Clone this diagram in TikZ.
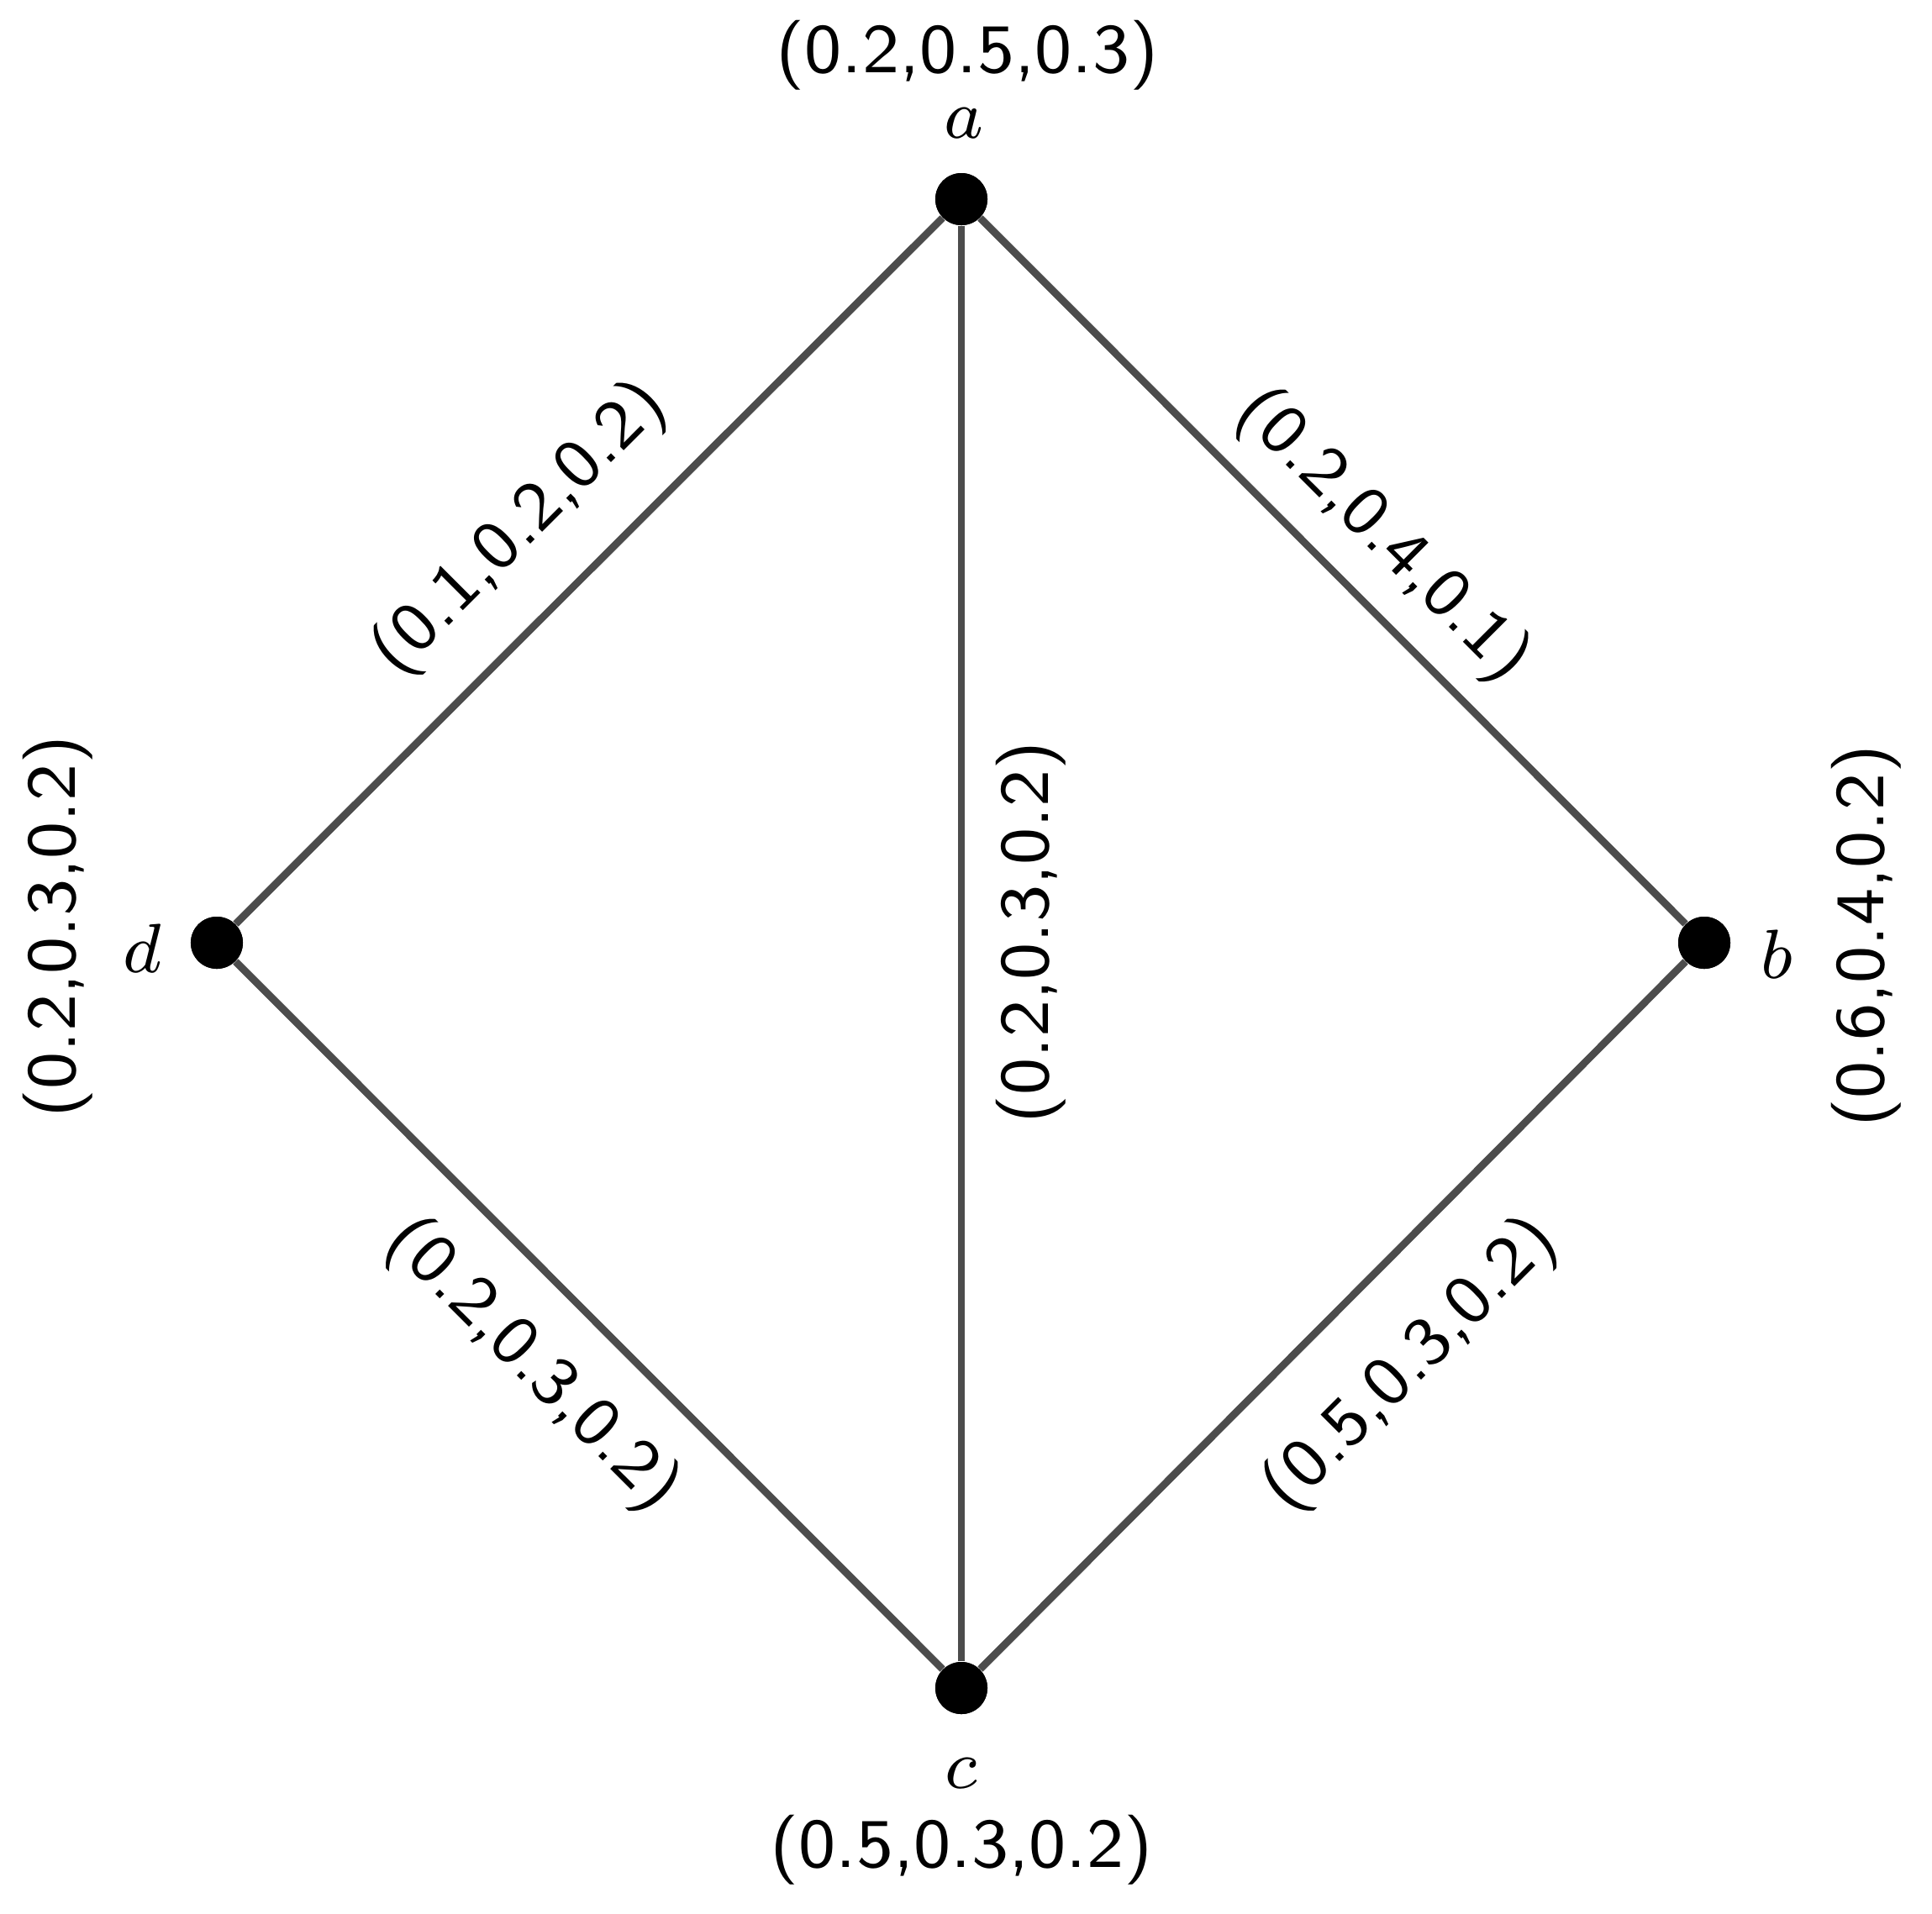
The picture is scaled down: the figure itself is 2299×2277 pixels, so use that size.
\documentclass[tikz,border=0pt]{standalone}
\begin{document}
\begin{tikzpicture}[x=0.01cm,y=-0.01cm,
  vert/.style={circle,fill=black,inner sep=0pt,minimum size=0.62cm},
  edge/.style={draw=black!70,line width=2.5pt},
  lbl/.style={font=\fontsize{8}{10}\sffamily,inner sep=0pt,scale=2.95},
  vname/.style={font=\fontsize{8}{10}\selectfont,inner sep=0pt,scale=2.95}]
\path[use as bounding box] (0,0) rectangle (2299,2277);
\node[vert] (a) at (1144,237) {};
\node[vert] (b) at (2028,1122) {};
\node[vert] (c) at (1144,2009) {};
\node[vert] (d) at (258,1122) {};
\draw[edge] (a) -- (d);
\draw[edge] (a) -- (b);
\draw[edge] (a) -- (c);
\draw[edge] (d) -- (c);
\draw[edge] (c) -- (b);
\node[vert] at (a) {};
\node[vert] at (b) {};
\node[vert] at (c) {};
\node[vert] at (d) {};
\node[vname] (na) at (1147,147) {$a$};
\node[vname] (nb) at (2114,1136) {$b$};
\node[vname] (nc) at (1144,2111) {$c$};
\node[vname] (nd) at (169,1129) {$d$};
\node[lbl] (la) at (1151,66) {(0.2,0.5,0.3)};
\node[lbl,rotate=90] (lb) at (2221,1114) {(0.6,0.4,0.2)};
\node[lbl] (lc) at (1144,2202) {(0.5,0.3,0.2)};
\node[lbl,rotate=90] (ld) at (69,1103) {(0.2,0.3,0.2)};
\node[lbl,rotate=45] (lad) at (619,630) {(0.1,0.2,0.2)};
\node[lbl,rotate=-45] (lab) at (1645,638) {(0.2,0.4,0.1)};
\node[lbl,rotate=90] (lac) at (1227,1110) {(0.2,0.3,0.2)};
\node[lbl,rotate=-45] (ldc) at (633,1625) {(0.2,0.3,0.2)};
\node[lbl,rotate=45] (lcb) at (1679,1625) {(0.5,0.3,0.2)};
\end{tikzpicture}
\end{document}
